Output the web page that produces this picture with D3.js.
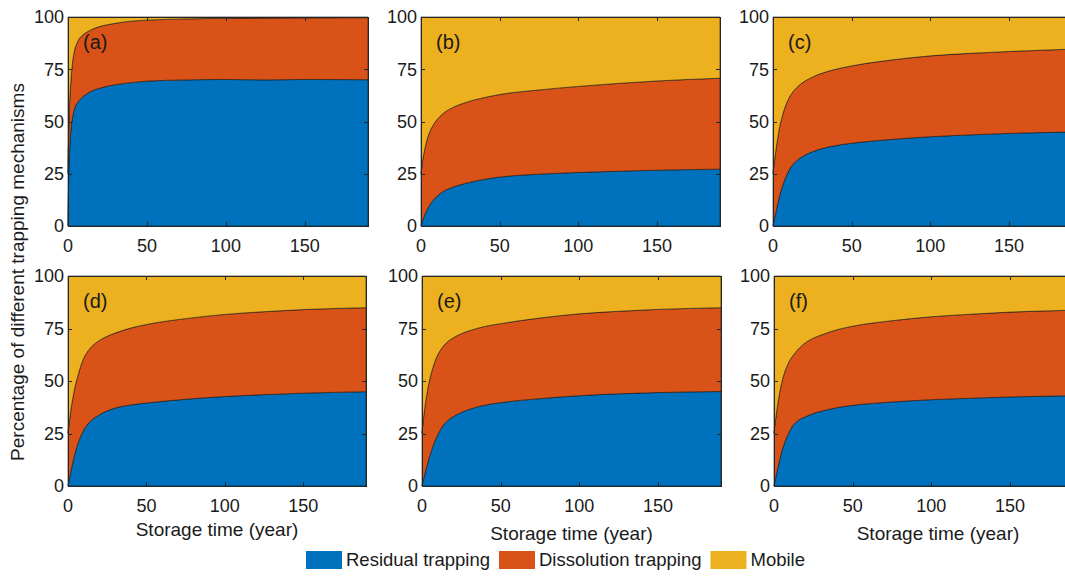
<!DOCTYPE html>
<html>
<head>
<meta charset="utf-8">
<script src="https://cdn.jsdelivr.net/npm/d3@7"></script>
<style>
  html, body { margin: 0; padding: 0; background: #fff; }
  svg { display: block; font-family: "Liberation Sans", Arial, sans-serif; }
</style>
</head>
<body>
<svg id="chart" width="1065" height="576"></svg>
<script>
// Storage time (years) at which the trapping fractions are sampled
const years = [0, 0.5, 1, 2, 3, 4, 6, 8, 10, 12, 15, 20, 25, 30, 40, 50, 75, 100, 125, 150, 190];

const xTicks = [0, 50, 100, 150];
const yTicks = [0, 25, 50, 75, 100];
const panelLabels = ["(a)", "(b)", "(c)", "(d)", "(e)", "(f)"];
const seriesNames = ["Residual trapping", "Dissolution trapping", "Mobile"];
const seriesColors = ["#0072BD", "#D95319", "#EDB120"];

// Percentage of CO2 held by each trapping mechanism, per case
const residualA    = [0, 26, 36, 47, 52.5, 55.8, 59, 60.8, 62.2, 63.3, 64.6, 65.9, 66.9, 67.6, 68.6, 69.3, 69.9, 70.1, 69.9, 70.1, 70];
const dissolutionA = [25, 21, 22, 24, 26.5, 27.7, 29, 29.6, 29.6, 29.5, 29.4, 29.5, 29.4, 29.4, 29.4, 29.2, 29.2, 29.3, 29.6, 29.5, 29.7];
const mobileA      = [75, 53, 42, 29, 21, 16.5, 12, 9.6, 8.2, 7.2, 6, 4.6, 3.7, 3, 2, 1.5, 0.9, 0.6, 0.5, 0.4, 0.3];

const residualB    = [0, 1.3, 2.5, 4.6, 6.4, 8, 10.6, 12.6, 14.1, 15.4, 16.9, 18.5, 19.7, 20.7, 22.3, 23.4, 24.8, 25.6, 26.2, 26.7, 27.2];
const dissolutionB = [25, 26.7, 28.5, 30.7, 32.4, 33.7, 35.2, 36, 36.6, 37, 37.5, 38.1, 38.5, 38.8, 39.1, 39.5, 40.3, 41.2, 42, 42.7, 43.5];
const mobileB      = [75, 72, 69, 64.7, 61.2, 58.3, 54.2, 51.4, 49.3, 47.6, 45.6, 43.4, 41.8, 40.5, 38.6, 37.1, 34.9, 33.2, 31.8, 30.6, 29.3];

const residualC    = [0, 1.8, 3.6, 7.2, 10.6, 13.8, 19, 23.2, 26.4, 28.8, 31.2, 33.8, 35.5, 36.8, 38.5, 39.6, 41.4, 42.7, 43.6, 44.3, 45];
const dissolutionC = [25, 26.7, 27.9, 29.8, 31.4, 32.7, 33.8, 34.3, 34.6, 34.7, 35, 35.4, 35.7, 36, 36.5, 37, 38, 38.7, 39, 39.2, 39.6];
const mobileC      = [75, 71.5, 68.5, 63, 58, 53.5, 47.2, 42.5, 39, 36.5, 33.8, 30.8, 28.8, 27.2, 25, 23.4, 20.6, 18.6, 17.4, 16.5, 15.4];

const residualD    = [0, 1.9, 3.8, 7.5, 11, 14.2, 19.5, 23.5, 26.6, 28.9, 31.3, 33.9, 35.8, 37.1, 38.6, 39.5, 41.3, 42.6, 43.5, 44.2, 44.9];
const dissolutionD = [25, 26.6, 27.7, 29.5, 30.5, 31.3, 32.2, 33.3, 34.2, 34.6, 35, 35.4, 35.5, 35.7, 36.6, 37.4, 38.4, 39.1, 39.5, 39.8, 40];
const mobileD      = [75, 71.5, 68.5, 63, 58.5, 54.5, 48.3, 43.2, 39.2, 36.5, 33.7, 30.7, 28.7, 27.2, 24.8, 23.1, 20.3, 18.3, 17, 16, 15.1];

const residualE    = [0, 1.6, 3.2, 6.3, 9.2, 12, 16.8, 21, 24.4, 27.2, 30.2, 33.1, 35, 36.5, 38.5, 39.7, 41.6, 43, 43.9, 44.5, 45];
const dissolutionE = [25, 27.4, 29.3, 32, 34, 35.5, 37.2, 37.8, 38, 37.8, 37.6, 37.5, 37.5, 37.4, 37.5, 37.6, 38.4, 39, 39.3, 39.6, 39.9];
const mobileE      = [75, 71, 67.5, 61.7, 56.8, 52.5, 46, 41.2, 37.6, 35, 32.2, 29.4, 27.5, 26.1, 24, 22.7, 20, 18, 16.8, 15.9, 15.1];

const residualF    = [0, 1.8, 3.6, 7.2, 10.6, 13.8, 19, 23, 26.2, 28.8, 31, 33, 34.5, 35.6, 37.3, 38.4, 40, 41.1, 41.8, 42.4, 43];
const dissolutionF = [25, 26.7, 27.9, 29.8, 31.2, 32.2, 33.3, 33.6, 33.6, 33.2, 33.8, 35.2, 35.9, 36.3, 37.1, 37.7, 38.7, 39.5, 40, 40.4, 40.7];
const mobileF      = [75, 71.5, 68.5, 63, 58.2, 54, 47.7, 43.4, 40.2, 38, 35.2, 31.8, 29.6, 28.1, 25.6, 23.9, 21.3, 19.4, 18.2, 17.2, 16.3];

const cases = [
  [residualA, dissolutionA, mobileA],
  [residualB, dissolutionB, mobileB],
  [residualC, dissolutionC, mobileC],
  [residualD, dissolutionD, mobileD],
  [residualE, dissolutionE, mobileE],
  [residualF, dissolutionF, mobileF]
];

// Subplot frames (pixels); the rightmost column runs past the page edge
const frames = [
  { x0: 68,  x1: 368,  y0: 17,  y1: 226 },
  { x0: 421, x1: 720,  y0: 17,  y1: 226 },
  { x0: 773, x1: 1072, y0: 17,  y1: 226 },
  { x0: 68,  x1: 366,  y0: 276, y1: 486 },
  { x0: 422, x1: 721,  y0: 276, y1: 486 },
  { x0: 774, x1: 1073, y0: 276, y1: 486 }
];

const svg = d3.select("#chart");
const keys = ["residual", "dissolution", "mobile"];
const axisColor = "#262626";
const tickFont = 18;

frames.forEach((f, i) => {
  const [res, dis, mob] = cases[i];
  const rows = years.map((t, j) => ({ year: t, residual: res[j], dissolution: dis[j], mobile: mob[j] }));
  const stacked = d3.stack().keys(keys)(rows);

  const x = d3.scaleLinear().domain([0, 190]).range([f.x0, f.x1]);
  const y = d3.scaleLinear().domain([0, 100]).range([f.y1, f.y0]);

  const g = svg.append("g");

  const area = d3.area()
    .curve(d3.curveMonotoneX)
    .x(d => x(d.data.year))
    .y0(d => y(d[0]))
    .y1(d => y(Math.min(100, d[1])));

  g.selectAll("path.layer")
    .data(stacked)
    .join("path")
    .attr("class", "layer")
    .attr("d", area)
    .attr("fill", (d, k) => seriesColors[k])
    .attr("stroke", "#111")
    .attr("stroke-width", 0.6)
    .attr("stroke-linejoin", "round");

  // box with inward ticks on all four sides
  g.append("rect")
    .attr("x", f.x0 + 0.5).attr("y", f.y0 + 0.5)
    .attr("width", f.x1 - f.x0).attr("height", f.y1 - f.y0)
    .attr("fill", "none").attr("stroke", axisColor).attr("stroke-width", 1);

  const tl = 4;
  xTicks.forEach(v => {
    const px = Math.round(x(v)) + 0.5;
    g.append("line").attr("x1", px).attr("x2", px).attr("y1", f.y1).attr("y2", f.y1 - tl)
      .attr("stroke", axisColor);
    g.append("line").attr("x1", px).attr("x2", px).attr("y1", f.y0).attr("y2", f.y0 + tl)
      .attr("stroke", axisColor);
    g.append("text").attr("x", x(v)).attr("y", f.y1 + 26)
      .attr("text-anchor", "middle").attr("font-size", tickFont).attr("fill", "#1a1a1a")
      .text(v);
  });
  yTicks.forEach(v => {
    const py = Math.round(y(v)) + 0.5;
    g.append("line").attr("x1", f.x0).attr("x2", f.x0 + tl).attr("y1", py).attr("y2", py)
      .attr("stroke", axisColor);
    g.append("line").attr("x1", f.x1).attr("x2", f.x1 - tl).attr("y1", py).attr("y2", py)
      .attr("stroke", axisColor);
    g.append("text").attr("x", f.x0 - 4).attr("y", y(v)).attr("dy", "0.35em")
      .attr("text-anchor", "end").attr("font-size", tickFont).attr("fill", "#1a1a1a")
      .text(v);
  });

  g.append("text").attr("x", f.x0 + 15).attr("y", f.y0 + 32)
    .attr("font-size", 20).attr("fill", "#1a1a1a").text(panelLabels[i]);
});

// axis titles
const xTitleY = [536, 540, 540];
[3, 4, 5].forEach((i, k) => {
  const f = frames[i];
  const cx = k === 2 ? 938 : (f.x0 + f.x1) / 2;
  svg.append("text").attr("x", cx).attr("y", xTitleY[k])
    .attr("text-anchor", "middle").attr("font-size", 19).attr("fill", "#1a1a1a")
    .text("Storage time (year)");
});

svg.append("text")
  .attr("transform", "translate(24,272) rotate(-90)")
  .attr("text-anchor", "middle").attr("font-size", 19).attr("fill", "#1a1a1a")
  .text("Percentage of different trapping mechanisms");

// legend
const legend = svg.append("g");
let lx = 306;
seriesNames.forEach((name, k) => {
  legend.append("rect").attr("x", lx).attr("y", 551).attr("width", 36).attr("height", 18)
    .attr("fill", seriesColors[k]);
  const t = legend.append("text").attr("x", lx + 40).attr("y", 566)
    .attr("font-size", 18.5).attr("fill", "#1a1a1a").text(name);
  lx += 40 + t.node().getComputedTextLength() + 9;
});
</script>
</body>
</html>
